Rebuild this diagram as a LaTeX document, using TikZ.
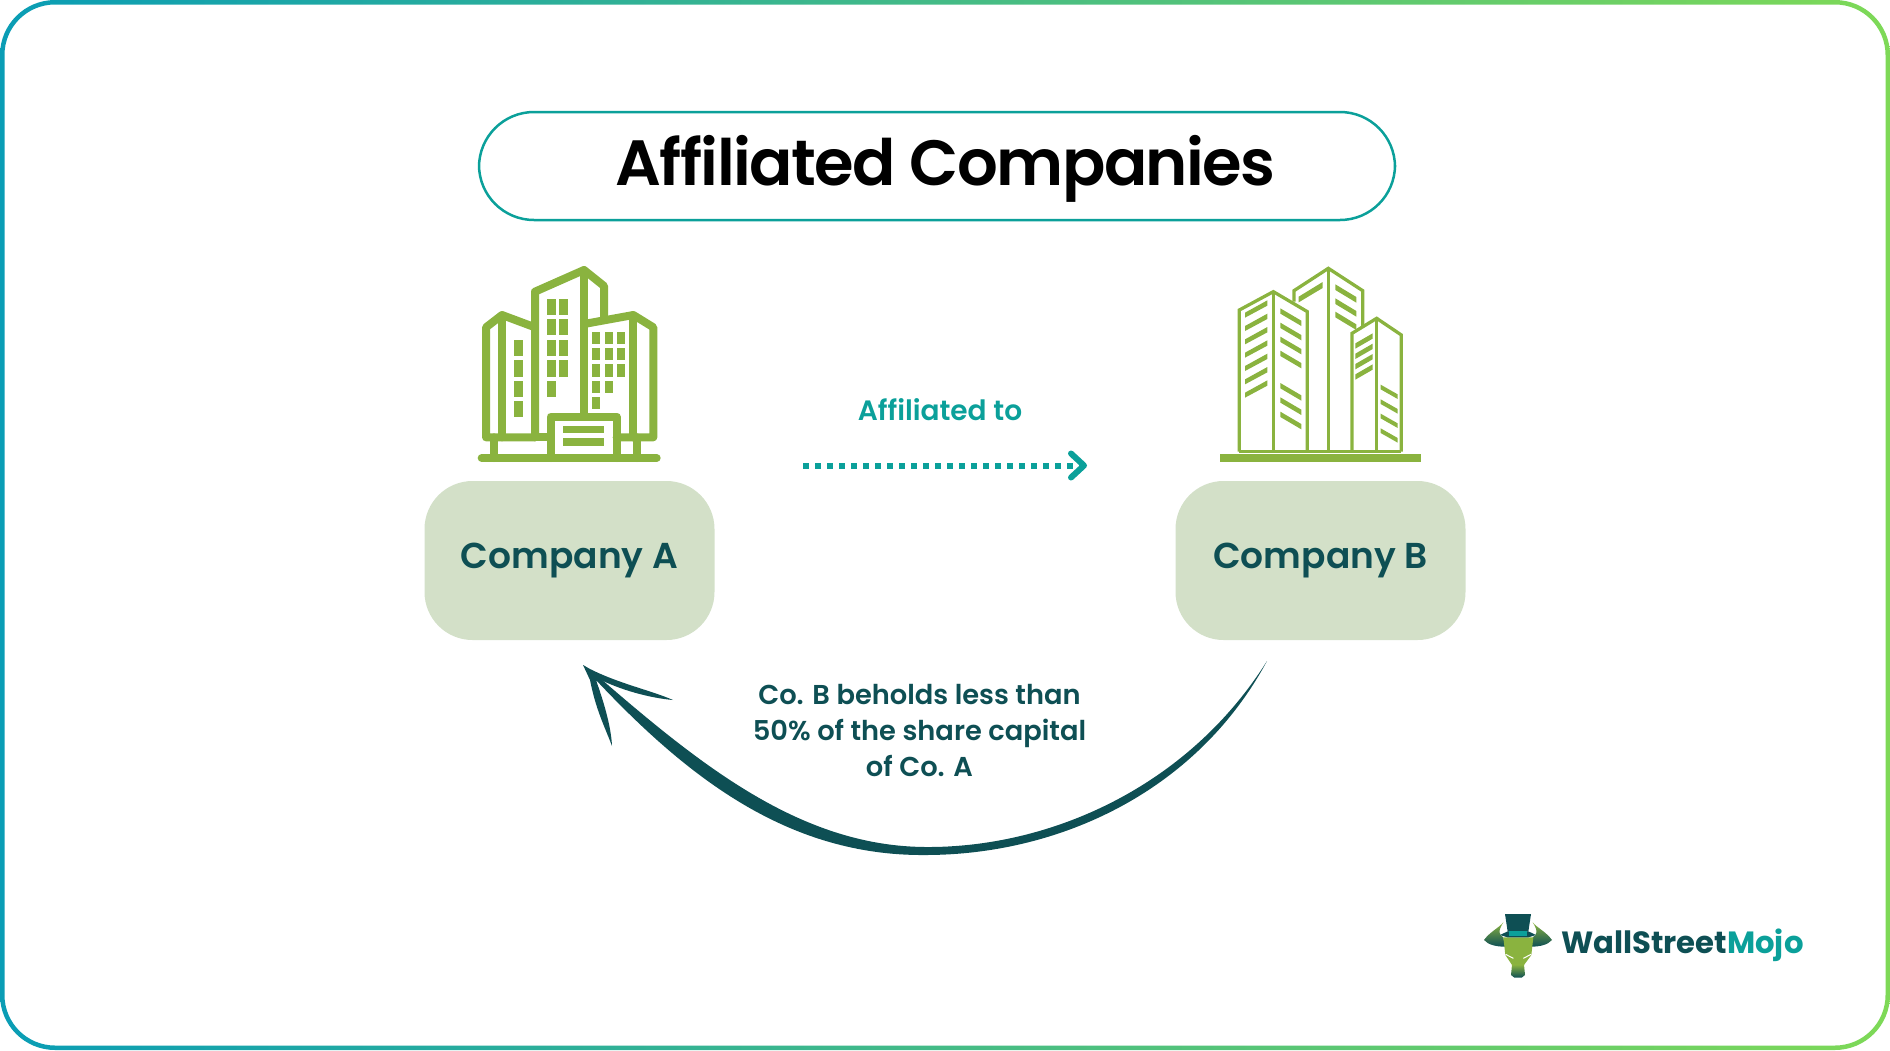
\documentclass[tikz,border=0pt]{standalone}
\usepackage{fontspec}
\setmainfont{Poppins}
\newfontfamily\semifont{Poppins SemiBold}
\newfontfamily\titlefont[LetterSpace=-2.4]{Poppins SemiBold}
\usetikzlibrary{arrows.meta}
\definecolor{darkteal}{HTML}{0E4F54}
\definecolor{midteal}{HTML}{0BA09A}
\definecolor{leafgreen}{HTML}{8AB33F}
\definecolor{boxgreen}{HTML}{D3E0C8}
\definecolor{ringblue}{HTML}{0A9DB5}
\definecolor{ringgreen}{HTML}{7ED957}
\tikzset{
  companybox/.style={fill=boxgreen, rounded corners=48pt, minimum width=290pt, minimum height=159pt, text=darkteal, font=\semifont\fontsize{36}{36}\selectfont},
  notetext/.style={text=darkteal, font=\semifont\fontsize{27.3}{36}\selectfont, align=center},
  iconA/.style={draw=leafgreen, line width=8pt, line join=round, line cap=round},
  iconB/.style={draw=leafgreen, line width=3.3pt, line join=miter}
}
\begin{document}
\begin{tikzpicture}[x=1pt, y=-1pt, line cap=butt]
  \useasboundingbox (0,0) rectangle (1890,1050);
  % outer ring
  \shade[left color=ringblue, right color=ringgreen, even odd rule]
    (0,0) [rounded corners=55pt] rectangle (1890,1050)
    (4.5,4.5) [rounded corners=50.5pt] rectangle (1885.5,1045.5);
  % title and boxes
  \node[draw=midteal, line width=2.5pt, rounded corners=55pt, minimum width=916pt, minimum height=108pt, text height=53pt, text depth=15pt, font=\titlefont\fontsize{64}{64}\selectfont] (title) at (937,166) {\hspace*{17pt}Affiliated Companies};
  \node[companybox] (compA) at (569.5,560.5) {Company A};
  \node[companybox] (compB) at (1320.5,560.5) {Company B};
  % dotted link
  \node[text=midteal, font=\semifont\fontsize{28}{28}\selectfont] (linktext) at (940,410) {Affiliated to};
  \coordinate (linkstart) at (803,465.5);
  \coordinate (linkend) at (1087,465.5);
  \draw[midteal, line width=6pt, dash pattern=on 6pt off 6pt, -{Straight Barb[length=13pt, width=24pt, line width=6pt, round]}] (linkstart) -- (linkend);
  % return arrow
  \node[notetext] (share) at (919.5,731) {Co. B beholds less than\\50\% of the share capital\\of Co. A};
  \coordinate (backstart) at (1267,661);
  \coordinate (backtip) at (583,665);
  \fill[darkteal] (backstart)
    .. controls (1188,787) and (1050,848) .. (925,847)
    .. controls (800,846) and (700,765) .. (593,672)
    -- (backtip)
    -- (590,680)
    .. controls (596,710) and (604,725) .. (612,746)
    .. controls (611,725) and (603,700) .. (596,680)
    .. controls (690,780) and (790,856) .. (925,855)
    .. controls (1060,855) and (1197,791) .. (backstart) -- cycle;
  \fill[darkteal] (backtip) -- (590,669)
    .. controls (620,684) and (650,690) .. (673,700)
    .. controls (650,698) and (620,690) .. (597,678) -- cycle;
  % first building, tall
  \begin{scope}[shift={(460,250)}, scale=1/3]
    \draw[iconA] (65,624) -- (590,624);
    \draw[iconA] (225,562) -- (78,562) -- (78,232) -- (126,195) -- (225,232);
    \draw[iconA] (126,195) -- (126,562);
    \draw[iconA] (225,562) -- (225,125) -- (372,60) -- (432,108) -- (432,205);
    \draw[iconA] (372,60) -- (372,490);
    \draw[iconA] (372,222) -- (520,195) -- (580,232) -- (580,562) -- (470,562);
    \draw[iconA] (520,195) -- (520,562);
    \draw[iconA] (102,562) -- (102,624);
    \draw[iconA] (532,562) -- (532,624);
    \draw[iconA] (225,562) -- (272,562);
    \draw[iconA] (272,624) -- (272,500) -- (470,500) -- (470,624);
    \fill[leafgreen] (310,527) rectangle (433,550);
    \fill[leafgreen] (310,565) rectangle (433,588);
    \foreach \wy in {269,331,392,453} \fill[leafgreen] (163,\wy) rectangle (188,\wy+49);
    \foreach \wy in {146,207,269,331,392} \fill[leafgreen] (262,\wy) rectangle (287,\wy+49);
    \foreach \wy in {146,207,269,331} \fill[leafgreen] (298,\wy) rectangle (323,\wy+49);
    \foreach \wy in {245,294,343,392,441} \fill[leafgreen] (396,\wy) rectangle (421,\wy+37);
    \foreach \wy in {245,294,343,392} \fill[leafgreen] (434,\wy) rectangle (458,\wy+37);
    \foreach \wy in {245,294,343} \fill[leafgreen] (470,\wy) rectangle (495,\wy+37);
  \end{scope}
  % second building, slats
  \begin{scope}[shift={(1200,250)}, scale=1/3]
    \fill[leafgreen] (60,612) rectangle (662,637);
    \draw[iconB] (118,605) -- (118,180) -- (220,125) -- (322,185) -- (322,605);
    \draw[iconB] (220,125) -- (220,605);
    \draw[iconB] (282,155) -- (282,122) -- (385,55) -- (488,122) -- (488,232);
    \draw[iconB] (385,55) -- (385,605);
    \draw[iconB] (456,605) -- (456,250) -- (530,205) -- (604,255) -- (604,605);
    \draw[iconB] (530,205) -- (530,605);
    \draw[iconB] (118,605) -- (604,605);
    \foreach \wy in {188,228,268,308,348,388,428} \fill[leafgreen] (135,\wy) -- (202,\wy-37) -- (202,\wy-21) -- (135,\wy+15) -- cycle;
    \foreach \wy in {175,218,260,302,399,442,485} \fill[leafgreen] (241,\wy) -- (304,\wy+37) -- (304,\wy+53) -- (241,\wy+16) -- cycle;
    \fill[leafgreen] (296,140) -- (368,96) -- (368,114) -- (296,157) -- cycle;
    \foreach \wy in {103,145,185} \fill[leafgreen] (406,\wy) -- (469,\wy+38) -- (469,\wy+55) -- (406,\wy+17) -- cycle;
    \foreach \wy in {280,311,342,373} \fill[leafgreen] (466,\wy) -- (518,\wy-30) -- (518,\wy-14) -- (466,\wy+16) -- cycle;
    \foreach \wy in {404,448,491,535} \fill[leafgreen] (542,\wy) -- (593,\wy+29) -- (593,\wy+43) -- (542,\wy+14) -- cycle;
  \end{scope}
  % logo
  \node[anchor=base west, inner sep=0pt, font=\bfseries\fontsize{30.7}{31}\selectfont] (wsmtext) at (1561,953) {\textcolor{darkteal}{WallStreet}\textcolor{midteal}{Mojo}};
  \begin{scope}[shift={(1460,890)}, scale=1/3]
    \shade[top color=leafgreen, bottom color=darkteal] (130,97) .. controls (115,115) and (90,125) .. (72,150) .. controls (85,165) and (110,170) .. (135,170) -- (130,142) .. controls (118,135) and (112,125) .. (130,97);
    \shade[top color=leafgreen, bottom color=darkteal] (218,97) .. controls (233,115) and (258,125) .. (276,150) .. controls (263,165) and (238,170) .. (213,170) -- (218,142) .. controls (230,135) and (236,125) .. (218,97);
    \fill[leafgreen] (130,142) -- (220,142) -- (214,195) -- (192,225) -- (156,225) -- (136,195) -- cycle;
    \shade[top color=leafgreen, bottom color=darkteal] (156,224) -- (192,224) -- (195,255) -- (185,263) -- (163,263) -- (153,255) -- cycle;
    \fill[darkteal] (135,72) -- (213,72) -- (205,125) -- (143,125) -- cycle;
    \fill[darkteal] (120,135) -- (143,124) -- (205,124) -- (228,135) -- (205,142) -- (143,142) -- cycle;
    \fill[midteal] (146,122) rectangle (202,137);
    \draw[white, line width=1pt] (137,193) -- (160,205);
    \draw[white, line width=1pt] (213,193) -- (190,205);
  \end{scope}
\end{tikzpicture}
\end{document}
